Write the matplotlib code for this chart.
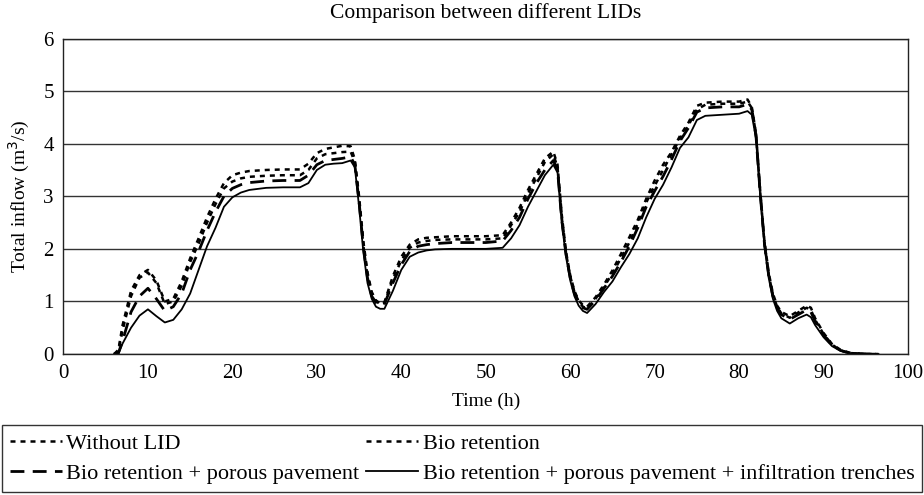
import matplotlib
matplotlib.use("Agg")
import matplotlib.pyplot as plt

plt.rcParams["font.family"] = ["Liberation Serif", "DejaVu Serif"]

# Time (h)
time_h = [6, 6.5, 7, 8, 9, 10, 11, 12, 13, 14, 15, 16, 17, 18, 19, 20, 21, 22, 24, 26, 28,
          29, 30, 31, 32, 33, 34, 34.5, 35, 35.5, 36, 36.5, 37, 37.5, 38, 39, 40, 41, 42, 43,
          44, 46, 48, 50, 52, 53, 54, 55, 56, 57, 58, 58.5, 59, 59.5, 60, 60.5, 61, 61.5, 62,
          63, 64, 65, 66, 67, 68, 69, 70, 71, 72, 73, 74, 75, 76, 78, 80, 81, 81.5, 82, 82.5,
          83, 83.5, 84, 84.5, 85, 86, 87, 88, 88.5, 89, 90, 91, 92, 93, 94, 95, 96.5]

# Total inflow (m3/s) for each scenario
without_lid = [0, 0.08, 0.55, 1.2, 1.5, 1.6, 1.4, 1.0, 1.05, 1.38, 1.82, 2.2, 2.6, 2.95, 3.25,
               3.4, 3.45, 3.48, 3.5, 3.51, 3.51, 3.62, 3.82, 3.9, 3.93, 3.96, 3.95, 3.7, 3.0,
               2.15, 1.55, 1.18, 1.02, 0.96, 0.98, 1.48, 1.85, 2.08, 2.18, 2.21, 2.22, 2.24,
               2.24, 2.24, 2.26, 2.5, 2.78, 3.12, 3.42, 3.72, 3.85, 3.6, 2.65, 1.95, 1.5, 1.2,
               1.02, 0.93, 0.9, 1.08, 1.32, 1.59, 1.9, 2.22, 2.55, 2.95, 3.3, 3.6, 3.84, 4.15,
               4.4, 4.72, 4.78, 4.8, 4.8, 4.84, 4.7, 4.2, 3.1, 2.15, 1.55, 1.15, 0.92, 0.8, 0.72,
               0.82, 0.92, 0.88, 0.68, 0.4, 0.19, 0.08, 0.03, 0.01, 0, 0]
bio_retention = [0, 0.05, 0.45, 1.1, 1.45, 1.55, 1.35, 0.95, 1.0, 1.3, 1.75, 2.1, 2.5, 2.85,
                 3.15, 3.28, 3.34, 3.37, 3.39, 3.4, 3.4, 3.5, 3.72, 3.8, 3.82, 3.84, 3.85, 3.65,
                 2.95, 2.1, 1.5, 1.15, 1.0, 0.95, 0.97, 1.42, 1.78, 2.02, 2.12, 2.15, 2.17,
                 2.18, 2.18, 2.18, 2.2, 2.45, 2.7, 3.05, 3.35, 3.65, 3.8, 3.55, 2.6, 1.92, 1.48,
                 1.18, 1.0, 0.9, 0.87, 1.05, 1.28, 1.53, 1.82, 2.12, 2.48, 2.88, 3.2, 3.5, 3.8,
                 4.1, 4.35, 4.65, 4.74, 4.76, 4.76, 4.8, 4.68, 4.18, 3.08, 2.12, 1.52, 1.12,
                 0.9, 0.77, 0.69, 0.79, 0.88, 0.84, 0.65, 0.38, 0.18, 0.07, 0.02, 0.01, 0, 0]
bio_porous = [0, 0.02, 0.25, 0.8, 1.1, 1.25, 1.05, 0.82, 0.9, 1.15, 1.6, 1.95, 2.35, 2.7,
              3.0, 3.15, 3.22, 3.26, 3.29, 3.3, 3.3, 3.4, 3.6, 3.68, 3.7, 3.72, 3.75, 3.6,
              2.9, 2.05, 1.45, 1.1, 0.98, 0.93, 0.95, 1.35, 1.7, 1.95, 2.05, 2.08, 2.1, 2.12,
              2.12, 2.12, 2.15, 2.35, 2.6, 2.95, 3.25, 3.5, 3.68, 3.5, 2.55, 1.9, 1.45, 1.15,
              0.98, 0.88, 0.85, 1.02, 1.25, 1.48, 1.75, 2.05, 2.4, 2.8, 3.1, 3.38, 3.7, 4.05,
              4.3, 4.6, 4.68, 4.7, 4.7, 4.75, 4.65, 4.15, 3.05, 2.1, 1.5, 1.1, 0.88, 0.75,
              0.66, 0.75, 0.84, 0.8, 0.62, 0.36, 0.17, 0.07, 0.02, 0.01, 0, 0]
bio_porous_trench = [0, 0.0, 0.2, 0.5, 0.73, 0.85, 0.72, 0.6, 0.65, 0.85, 1.15, 1.6, 2.05,
                     2.4, 2.8, 2.98, 3.07, 3.12, 3.16, 3.17, 3.17, 3.25, 3.5, 3.6, 3.62, 3.63,
                     3.68, 3.55, 2.8, 1.95, 1.35, 1.05, 0.9, 0.86, 0.86, 1.2, 1.6, 1.85, 1.93,
                     1.97, 1.99, 2.0, 2.0, 2.0, 2.02, 2.2, 2.45, 2.8, 3.1, 3.4, 3.6, 3.45, 2.5,
                     1.85, 1.4, 1.1, 0.92, 0.82, 0.78, 0.95, 1.18, 1.38, 1.65, 1.9, 2.2, 2.6,
                     2.95, 3.22, 3.55, 3.92, 4.12, 4.45, 4.53, 4.55, 4.57, 4.62, 4.55, 4.1, 3.0,
                     2.05, 1.45, 1.05, 0.82, 0.68, 0.58, 0.68, 0.75, 0.7, 0.55, 0.32, 0.15, 0.06,
                     0.02, 0.01, 0, 0]

labels = ["Without LID", "Bio retention", "Bio retention + porous pavement",
          "Bio retention + porous pavement + infiltration trenches"]

fig = plt.figure(figsize=(9.24, 4.95), dpi=100)
ax = fig.add_axes([0.0687, 0.2848, 0.914, 0.6374])

l1, = ax.plot(time_h, without_lid, color="black", lw=1.8, ls=(0, (2, 2)), label=labels[0])
l2, = ax.plot(time_h, bio_retention, color="black", lw=1.8, ls=(0, (2, 2)), label=labels[1])
l3, = ax.plot(time_h, bio_porous, color="black", lw=2.0, ls=(0, (5, 3)), label=labels[2])
l4, = ax.plot(time_h, bio_porous_trench, color="black", lw=1.3, label=labels[3])

ax.set_xlim(0, 100)
ax.set_ylim(0, 6)
ax.set_xticks(range(0, 101, 10))
ax.set_yticks(range(0, 7))
ax.yaxis.grid(True, color="#333333", lw=1)
ax.set_axisbelow(True)
ax.tick_params(length=0, labelsize=15, pad=7)
for sp in ax.spines.values():
    sp.set_linewidth(1)
    sp.set_color("#222222")

ax.set_xlabel("Time (h)", fontsize=14, labelpad=7)
ax.set_ylabel("Total inflow (m$^3$/s)", fontsize=14, labelpad=8)
ax.set_title("Comparison between different LIDs", fontsize=15.5, pad=15)

leg = fig.legend(handles=[l1, l3, l2, l4], labels=[labels[0], labels[2], labels[1], labels[3]],
                 loc="lower left", bbox_to_anchor=(0.002, 0.006, 0.996, 0.131), mode="expand",
                 ncol=2, fontsize=16, frameon=True, fancybox=False, handlelength=2.35,
                 handletextpad=0.2, borderpad=0.35, labelspacing=0.45, borderaxespad=0)
leg.get_frame().set_edgecolor("black")
leg.get_frame().set_linewidth(1)

fig.savefig("out.png", dpi=100)
